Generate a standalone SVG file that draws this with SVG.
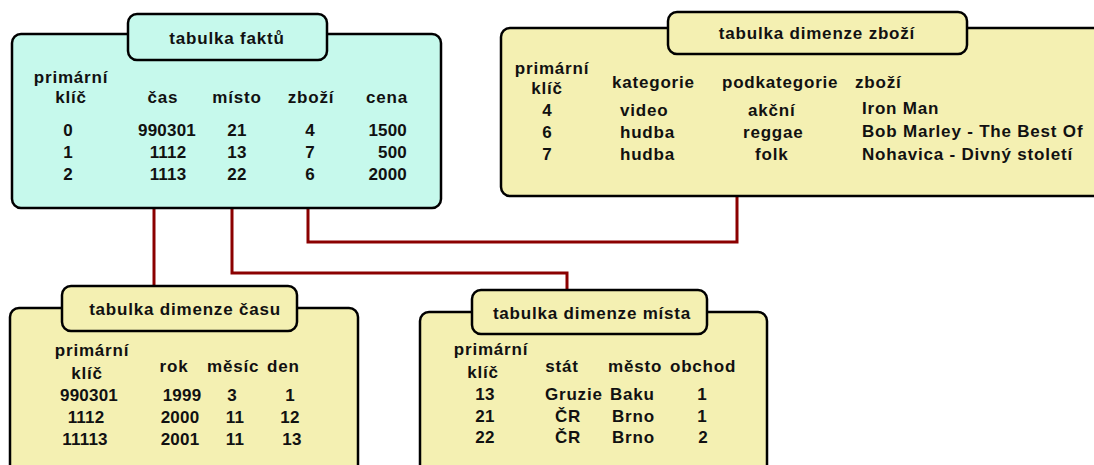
<svg xmlns="http://www.w3.org/2000/svg" width="1094" height="465" viewBox="0 0 1094 465">
<style>
.box{stroke:#000;stroke-width:2.5}
.fact{fill:#c6f9ec}
.dim{fill:#f4f0b2}
text{font-family:"Liberation Sans",Arial,sans-serif;font-weight:bold;font-size:17px;fill:#111;letter-spacing:0.8px}
.m{text-anchor:middle}
.e{text-anchor:end}
.n{letter-spacing:0.2px}
.conn{fill:none;stroke:#8b0000;stroke-width:3}
</style>
<g id="connectors">
<path class="conn" d="M154 208 V286"/>
<path class="conn" d="M232 208 V273 H567 V290"/>
<path class="conn" d="M308 208 V242 H737 V196"/>
</g>
<g id="fact-table">
<rect class="box fact" x="12" y="34" width="429" height="174" rx="9"/>
<rect class="box fact" x="128" y="14" width="199" height="46" rx="9"/>
<text class="m" x="227" y="44">tabulka faktů</text>
<text class="m" x="71" y="83">primární</text>
<text class="m" x="71" y="103">klíč</text>
<text class="m" x="163" y="103">čas</text>
<text class="m" x="237" y="103">místo</text>
<text class="m" x="311" y="103">zboží</text>
<text class="m" x="387" y="103">cena</text>
<text class="m n" x="68" y="136">0</text>
<text class="m n" x="167" y="136">990301</text>
<text class="m n" x="237" y="136">21</text>
<text class="m n" x="310" y="136">4</text>
<text class="e n" x="407" y="136">1500</text>
<text class="m n" x="68" y="158">1</text>
<text class="m n" x="168" y="158">1112</text>
<text class="m n" x="237" y="158">13</text>
<text class="m n" x="310" y="158">7</text>
<text class="e n" x="407" y="158">500</text>
<text class="m n" x="68" y="180">2</text>
<text class="m n" x="168" y="180">1113</text>
<text class="m n" x="237" y="180">22</text>
<text class="m n" x="310" y="180">6</text>
<text class="e n" x="407" y="180">2000</text>
</g>
<g id="goods-table">
<rect class="box dim" x="501" y="28" width="620" height="168" rx="9"/>
<rect class="box dim" x="668" y="12" width="299" height="42" rx="9"/>
<text class="m" x="817" y="39">tabulka dimenze zboží</text>
<text class="m" x="552" y="74">primární</text>
<text class="m" x="547" y="94">klíč</text>
<text x="612" y="88">kategorie</text>
<text x="722" y="88">podkategorie</text>
<text x="855" y="88">zboží</text>
<text class="m n" x="547" y="116">4</text>
<text x="620" y="116">video</text>
<text x="748" y="116">akční</text>
<text x="862" y="114">Iron Man</text>
<text class="m n" x="547" y="138">6</text>
<text x="620" y="138">hudba</text>
<text x="743" y="138">reggae</text>
<text x="862" y="137">Bob Marley - The Best Of</text>
<text class="m n" x="547" y="160">7</text>
<text x="620" y="160">hudba</text>
<text x="755" y="160">folk</text>
<text x="862" y="160">Nohavica - Divný století</text>
</g>
<g id="time-table">
<rect class="box dim" x="10" y="308" width="348" height="170" rx="9"/>
<rect class="box dim" x="62" y="286" width="235" height="45" rx="9"/>
<text class="m" x="185" y="315">tabulka dimenze času</text>
<text class="m" x="92" y="356">primární</text>
<text class="m" x="87" y="379">klíč</text>
<text class="m" x="174" y="372">rok</text>
<text x="207" y="372">měsíc</text>
<text x="267" y="372">den</text>
<text class="m n" x="89" y="401">990301</text>
<text class="m n" x="182" y="401">1999</text>
<text class="m n" x="232" y="401">3</text>
<text class="m n" x="290" y="401">1</text>
<text class="m n" x="86" y="423">1112</text>
<text class="m n" x="180" y="423">2000</text>
<text class="m n" x="235" y="423">11</text>
<text class="m n" x="290" y="423">12</text>
<text class="m n" x="85" y="445">11113</text>
<text class="m n" x="180" y="445">2001</text>
<text class="m n" x="235" y="445">11</text>
<text class="m n" x="292" y="445">13</text>
</g>
<g id="place-table">
<rect class="box dim" x="420" y="312" width="347" height="166" rx="9"/>
<rect class="box dim" x="472" y="290" width="235" height="44" rx="9"/>
<text class="m" x="592" y="319">tabulka dimenze místa</text>
<text class="m" x="491" y="355">primární</text>
<text class="m" x="483" y="378">klíč</text>
<text class="m" x="562" y="372">stát</text>
<text x="608" y="372">město</text>
<text x="670" y="372">obchod</text>
<text class="m n" x="485" y="400">13</text>
<text x="545" y="400">Gruzie</text>
<text x="610" y="400">Baku</text>
<text class="m n" x="702" y="400">1</text>
<text class="m n" x="485" y="422">21</text>
<text class="m" x="568" y="422">ČR</text>
<text x="612" y="422">Brno</text>
<text class="m n" x="702" y="422">1</text>
<text class="m n" x="485" y="443">22</text>
<text class="m" x="568" y="443">ČR</text>
<text x="612" y="443">Brno</text>
<text class="m n" x="703" y="443">2</text>
</g>
</svg>
